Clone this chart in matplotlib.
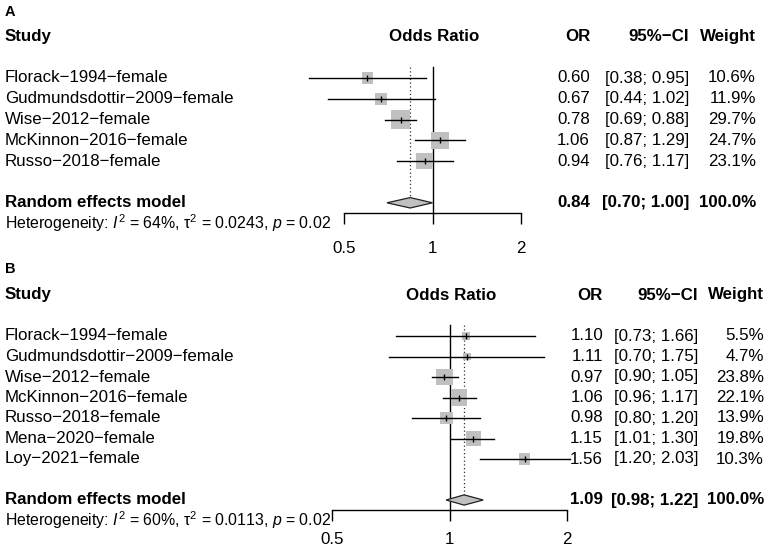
import numpy as np
import matplotlib
matplotlib.use("Agg")
import matplotlib.pyplot as plt
from matplotlib import transforms

plt.rcParams['font.family'] = ['Liberation Sans', 'DejaVu Sans']
plt.rcParams['mathtext.fontset'] = 'custom'
plt.rcParams['mathtext.rm'] = 'Liberation Sans'
plt.rcParams['mathtext.it'] = 'Liberation Sans:italic'
plt.rcParams['mathtext.bf'] = 'Liberation Sans:bold'

# panel A
studies_a = ["Florack\u22121994\u2212female", "Gudmundsdottir\u22122009\u2212female",
             "Wise\u22122012\u2212female", "McKinnon\u22122016\u2212female",
             "Russo\u22122018\u2212female"]
or_a = [0.60, 0.67, 0.78, 1.06, 0.94]
lo_a = [0.38, 0.44, 0.69, 0.87, 0.76]
hi_a = [0.95, 1.02, 0.88, 1.29, 1.17]
w_a = [10.6, 11.9, 29.7, 24.7, 23.1]
pooled_a = [0.84, 0.70, 1.00]
het_a = ["64%", "0.0243", "0.02"]

# panel B
studies_b = ["Florack\u22121994\u2212female", "Gudmundsdottir\u22122009\u2212female",
             "Wise\u22122012\u2212female", "McKinnon\u22122016\u2212female",
             "Russo\u22122018\u2212female", "Mena\u22122020\u2212female",
             "Loy\u22122021\u2212female"]
or_b = [1.10, 1.11, 0.97, 1.06, 0.98, 1.15, 1.56]
lo_b = [0.73, 0.70, 0.90, 0.96, 0.80, 1.01, 1.20]
hi_b = [1.66, 1.75, 1.05, 1.17, 1.20, 1.30, 2.03]
w_b = [5.5, 4.7, 23.8, 22.1, 13.9, 19.8, 10.3]
pooled_b = [1.09, 0.98, 1.22]
het_b = ["60%", "0.0113", "0.02"]

ticks = [0.5, 1, 2]

W, H = 767, 548
fig = plt.figure(figsize=(W / 100, H / 100), dpi=100)

FS = 12.2
GREY = "#c0c0c0"


def panel(letter, studies, est, lo, hi, w, pooled, het,
          x05, x2, top, bot, row0, step, cols, letter_y, pad):
    k = len(studies)
    ax = fig.add_axes([x05 / W, 1 - bot / H, (x2 - x05) / W, (bot - top) / H])
    ax.set_xscale('log', base=2)
    ax.set_xlim(0.5, 2)
    ax.set_ylim((bot - row0) / step, (top - row0) / step)
    ax.patch.set_visible(False)
    for s in ['top', 'left', 'right']:
        ax.spines[s].set_visible(False)
    ax.spines['bottom'].set_position(('data', k + 1.5))
    ax.spines['bottom'].set_bounds(0.5, 2)
    ax.spines['bottom'].set_linewidth(1.0)
    ax.set_yticks([])
    ax.set_xticks(ticks)
    ax.set_xticklabels([f"{t:g}" for t in ticks])
    ax.xaxis.set_minor_locator(matplotlib.ticker.NullLocator())
    ax.tick_params(axis='x', direction='out', length=8, width=1.0,
                   labelsize=FS, pad=pad)

    lab = transforms.blended_transform_factory(fig.transFigure, ax.transData)
    ys = np.arange(k)

    # reference line and pooled estimate line
    ax.plot([1, 1], [-0.55, k + 1.5], color='black', lw=1.0, clip_on=False)
    dh = 0.25
    ax.plot([pooled[0], pooled[0]], [-0.55, k + 1 - dh], color='#333333',
            lw=0.9, ls=(0, (1, 2)), clip_on=False)

    # studies
    for i in range(k):
        ax.plot([lo[i], hi[i]], [ys[i], ys[i]], color='black', lw=1.0,
                clip_on=False, zorder=3)
    side = 3.45 * np.sqrt(np.array(w)) * 0.72
    ax.scatter(est, ys, s=side ** 2, marker='s', color=GREY,
               linewidths=0, clip_on=False, zorder=2)
    ax.scatter(est, ys, s=16, marker='|', color='black', linewidths=1.0,
               clip_on=False, zorder=4)

    # diamond
    yd = k + 1
    ax.fill([pooled[1], pooled[0], pooled[2], pooled[0]],
            [yd, yd - dh, yd, yd + dh], facecolor=GREY, edgecolor='#222222',
            lw=0.9, clip_on=False, zorder=3)

    # headers
    fig.text(5 / W, 1 - letter_y / H, letter, fontsize=10.5, fontweight='bold',
             va='center', ha='left')
    ax.text(5 / W, -2, "Study", transform=lab, fontsize=FS, fontweight='bold',
            va='center', ha='left')
    ax.text(1.01, -2, "Odds Ratio", fontsize=FS, fontweight='bold',
            va='center', ha='center')
    for x, t in zip(cols, ["OR", "95%\u2212CI", "Weight"]):
        ax.text(x / W, -2, t, transform=lab, fontsize=FS, fontweight='bold',
                va='center', ha='right')

    for i in range(k):
        ax.text(5 / W, ys[i], studies[i], transform=lab, fontsize=FS,
                va='center', ha='left')
        vals = [f"{est[i]:.2f}", f"[{lo[i]:.2f}; {hi[i]:.2f}]", f"{w[i]:.1f}%"]
        for x, t in zip(cols, vals):
            ax.text(x / W, ys[i], t, transform=lab, fontsize=FS,
                    va='center', ha='right')

    ax.text(5 / W, yd, "Random effects model", transform=lab, fontsize=FS,
            fontweight='bold', va='center', ha='left')
    vals = [f"{pooled[0]:.2f}", f"[{pooled[1]:.2f}; {pooled[2]:.2f}]", "100.0%"]
    for x, t in zip(cols, vals):
        ax.text(x / W, yd, t, transform=lab, fontsize=FS, fontweight='bold',
                va='center', ha='right')

    het_txt = (r"Heterogeneity: $I^2$ = " + het[0]
               + r", $\mathrm{\tau}^2$ = " + het[1] + r", $p$ = " + het[2])
    ax.text(5 / W, k + 2, het_txt, transform=lab, fontsize=11.4,
            va='center', ha='left')
    return ax


panel("A", studies_a, or_a, lo_a, hi_a, w_a, pooled_a, het_a,
      344, 521, 36, 247, 78, 20.8, [590, 689, 756], 12, 12)
panel("B", studies_b, or_b, lo_b, hi_b, w_b, pooled_b, het_b,
      332, 567, 296, 541, 336, 20.5, [603, 698, 764], 269, 7.5)

fig.savefig("out.png", dpi=100)
